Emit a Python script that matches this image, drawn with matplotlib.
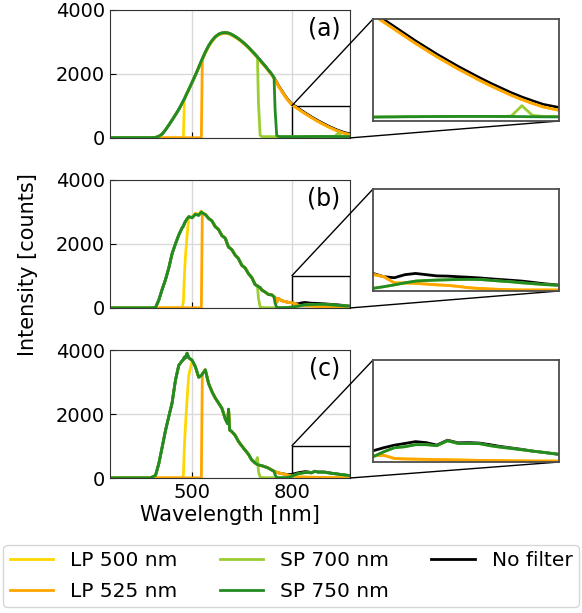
#
# Emission spectra through long-pass / short-pass filters, with zoomed IR tail
#

import matplotlib.pyplot as plt
from mpl_toolkits.axes_grid1.inset_locator import mark_inset

# wavelength grid [nm] shared by all spectra
wl = [253, 300, 350, 375, 390, 400, 410, 420, 430, 440,
      450, 460, 470, 474, 477, 480, 485, 490, 500, 510,
      520, 528, 531, 540, 550, 560, 570, 580, 590, 600,
      607, 610, 613, 620, 630, 640, 650, 660, 670, 680,
      690, 697, 700, 705, 710, 720, 730, 740, 747, 750,
      755, 760, 770, 780, 790, 800, 810, 820, 830, 840,
      850, 860, 870, 880, 890, 900, 910, 920, 930, 940,
      950, 960, 975]

# ---- panel (a) ----
nofilter_a = [10, 10, 10, 10, 15, 50, 120, 250, 400, 560,
              720, 890, 1080, 1160, 1220, 1290, 1400, 1510, 1730, 1960,
              2200, 2400, 2470, 2680, 2880, 3040, 3160, 3240, 3280, 3290,
              3280, 3275, 3265, 3230, 3170, 3100, 3020, 2930, 2830, 2720,
              2610, 2530, 2490, 2430, 2370, 2250, 2120, 1990, 1880, 1830,
              1740, 1640, 1480, 1320, 1180, 1065, 995, 925, 855, 785,
              720, 655, 595, 535, 480, 425, 373, 325, 277, 235,
              198, 163, 132]
lp525_a = [5] * 22 + [2450, 2660, 2860, 3020, 3140, 3220, 3260, 3270,
                      3260, 3255, 3245, 3210, 3150, 3080, 3000, 2910, 2810, 2700,
                      2590, 2510, 2470, 2410, 2350, 2230, 2100, 1970, 1860, 1810,
                      1720, 1620, 1460, 1300, 1160, 1040, 970, 900, 830, 760,
                      695, 630, 570, 510, 455, 400, 348, 300, 252, 210,
                      172, 138, 105]
lp500_a = [5] * 14 + [1210, 1280, 1390, 1500, 1720, 1950, 2190, 2390] + lp525_a[22:]
sp700_a = nofilter_a[:42] + [1100, 80, 45, 40, 40, 40, 40, 40,
                             40, 40, 40, 40, 40, 40, 40, 42, 42, 43,
                             44, 44, 45, 45, 45, 45, 45, 45, 48, 150,
                             55, 45, 45]
sp750_a = nofilter_a[:49] + [900,
                             80, 45, 40, 40, 40, 38, 40, 40, 42, 42,
                             43, 44, 44, 45, 45, 45, 45, 44, 44, 43,
                             42, 41, 40]

# ---- panel (b) ----
nofilter_b = [5, 5, 5, 5, 10, 250, 580, 880, 1250, 1700,
              2000, 2280, 2500, 2560, 2640, 2700, 2780, 2850, 2820, 2930,
              2900, 3000, 2970, 2920, 2800, 2720, 2540, 2450, 2260, 2180,
              1980, 1900, 1880, 1820, 1650, 1540, 1330, 1250, 1070, 950,
              730, 690, 660, 640, 560, 500, 420, 410, 350, 330,
              180, 300, 230, 200, 175, 172, 140, 130, 160, 172,
              160, 148, 146, 140, 135, 128, 120, 112, 105, 97,
              85, 72, 58]
lp525_b = [5] * 22 + nofilter_b[22:55] + [162, 140, 80, 78, 75,
                                          68, 60, 55, 45, 32, 25, 20, 15, 12, 10,
                                          10, 10, 10]
lp500_b = [5] * 13 + [200, 1000, 1600, 2250, 2820, 2850, 2960, 2930, 3030] + lp525_b[22:]
sp700_b = nofilter_b[:42] + [300, 40, 15, 10, 10, 10, 10, 10,
                             10, 10, 10, 12, 18, 26, 42, 60, 80, 97,
                             103, 107, 110, 113, 114, 113, 105, 97, 90, 80,
                             72, 64, 55]
sp750_b = nofilter_b[:49] + [150, 20, 10, 10, 12, 18, 26, 42, 60, 80, 97] + sp700_b[60:]

# ---- panel (c) ----
nofilter_c = [5, 5, 5, 5, 80, 450, 960, 1480, 1920, 2350,
              3050, 3520, 3660, 3700, 3780, 3750, 3900, 3760, 3680, 3480,
              3150, 3200, 3250, 3380, 2950, 2700, 2500, 2340, 2180, 1850,
              1700, 2150, 1500, 1450, 1330, 1140, 1000, 870, 740, 560,
              470, 420, 410, 395, 385, 350, 310, 250, 210, 200,
              180, 160, 140, 120, 108, 110, 140, 165, 182, 200,
              190, 166, 214, 188, 190, 186, 170, 152, 138, 124,
              107, 95, 75]
lp525_c = [5] * 22 + nofilter_c[22:52] + [135, 115, 85, 60, 66, 35, 30, 28,
                                          26, 24, 22, 20, 18, 16, 15, 14, 12, 11,
                                          10, 10, 10]
lp500_c = [5] * 13 + [100, 1000, 1600, 2450, 3200, 3650, 3480, 3150, 3200] + lp525_c[22:]
sp700_c = nofilter_c[:41] + [640, 200, 30, 15, 10, 10, 10, 10, 10,
                             10, 10, 10, 12, 25, 52, 100, 140, 150, 170,
                             170, 160, 208, 182, 182, 180, 160, 145, 133, 120,
                             107, 95, 75]
sp750_c = nofilter_c[:49] + [100, 20, 10, 10, 12, 25, 52, 100, 140, 150, 170] + sp700_c[60:]

labels = ["LP 500 nm", "LP 525 nm", "SP 700 nm", "SP 750 nm", "No filter"]
colors = ["gold", "orange", "yellowgreen", "forestgreen", "black"]

panels = [
    ("(a)", [lp500_a, lp525_a, sp700_a, sp750_a, nofilter_a]),
    ("(b)", [lp500_b, lp525_b, sp700_b, sp750_b, nofilter_b]),
    ("(c)", [lp500_c, lp525_c, sp700_c, sp750_c, nofilter_c]),
]

main_bottoms = [0.775, 0.4976, 0.2202]
inset_bottoms = [0.8026, 0.5253, 0.2463]


def draw_series(ax, series):
    """Draw the five spectra, 'No filter' underneath the others."""
    lines = []
    order = [4, 0, 1, 2, 3]
    for i in order:
        line, = ax.plot(wl, series[i], color=colors[i], lw=2,
                        label=labels[i], zorder=2 + order.index(i) * 0.1)
        lines.append((i, line))
    return [l for _, l in sorted(lines)]


fig = plt.figure(figsize=(5.82, 6.13), dpi=100)

handles = None
for k, (tag, series) in enumerate(panels):
    ax = fig.add_axes([0.189, main_bottoms[k], 0.412, 0.2088])
    hs = draw_series(ax, series)
    if handles is None:
        handles = hs

    ax.set_xlim(253, 975)
    ax.set_ylim(0, 4000)
    ax.set_xticks([500, 800])
    ax.set_yticks([0, 2000, 4000])
    ax.grid(True, color='0.85', lw=1)
    ax.set_axisbelow(True)
    ax.tick_params(direction='in', length=4, labelsize=14)
    for sp in ax.spines.values():
        sp.set_color('0.2')
    if k < 2:
        ax.set_xticklabels([])
    else:
        ax.set_xlabel("Wavelength [nm]", fontsize=15, labelpad=2)
    ax.text(0.96, 0.95, tag, transform=ax.transAxes, fontsize=17,
            ha='right', va='top')

    axins = fig.add_axes([0.641, inset_bottoms[k], 0.3196, 0.1664])
    draw_series(axins, series)
    axins.set_xlim(800, 975)
    axins.set_ylim(0, 1000)
    axins.set_xticks([])
    axins.set_yticks([])
    for sp in axins.spines.values():
        sp.set_color('0.3')
        sp.set_linewidth(1.3)

    mark_inset(ax, axins, loc1=2, loc2=4, fc='none', ec='k', lw=1)

fig.text(0.048, 0.568, "Intensity [counts]", rotation=90, fontsize=15,
         ha='center', va='center')

fig.legend(handles=handles, labels=labels, ncol=3, loc='lower center',
           bbox_to_anchor=(0.5, 0.0), fontsize=14.5, handlelength=2.15,
           handletextpad=0.85, columnspacing=2.1, labelspacing=0.6,
           borderpad=0.3, borderaxespad=0.3)

fig.savefig("out.png", dpi=100)
